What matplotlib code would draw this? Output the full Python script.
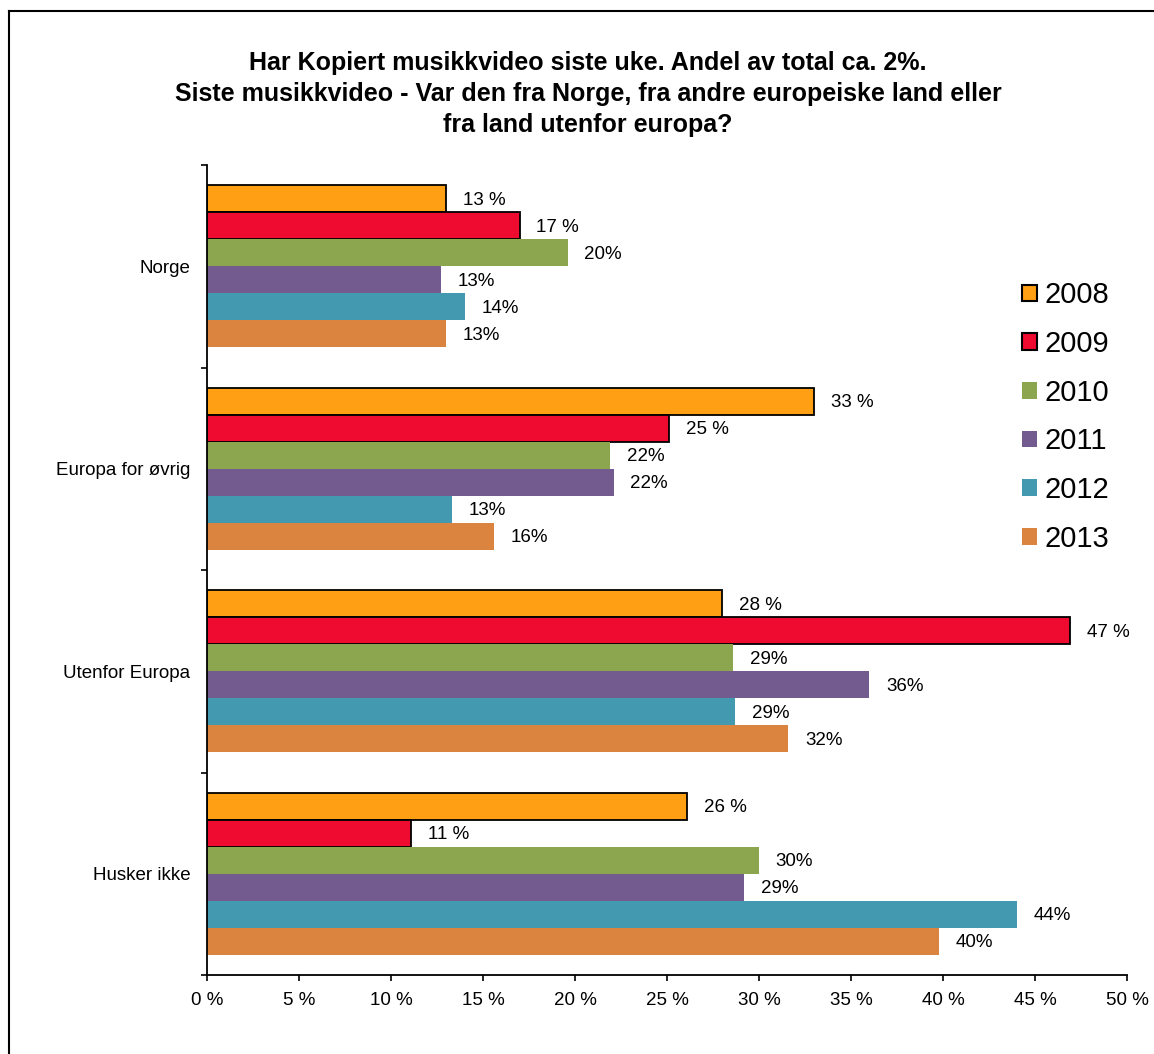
import numpy as np
import matplotlib
matplotlib.use("Agg")
import matplotlib.pyplot as plt
from matplotlib.patches import Patch
from matplotlib.lines import Line2D

plt.rcParams["font.family"] = ["Liberation Sans", "DejaVu Sans"]

# data
categories = ["Norge", "Europa for øvrig", "Utenfor Europa", "Husker ikke"]
years = ["2008", "2009", "2010", "2011", "2012", "2013"]
vals_2008 = [13.0, 33.0, 28.0, 26.1]
vals_2009 = [17.0, 25.1, 46.9, 11.1]
vals_2010 = [19.6, 21.9, 28.6, 30.0]
vals_2011 = [12.7, 22.1, 36.0, 29.2]
vals_2012 = [14.0, 13.3, 28.7, 44.0]
vals_2013 = [13.0, 15.6, 31.6, 39.8]
xticks = [0, 5, 10, 15, 20, 25, 30, 35, 40, 45, 50]

series = [vals_2008, vals_2009, vals_2010, vals_2011, vals_2012, vals_2013]
colors = ["#FF9F14", "#EF0A2F", "#8BA64F", "#735A8F", "#4399B0", "#DB843F"]
edged = [True, True, False, False, False, False]

title = ("Har Kopiert musikkvideo siste uke. Andel av total ca. 2%.\n"
         "Siste musikkvideo - Var den fra Norge, fra andre europeiske land eller\n"
         "fra land utenfor europa?")

W, H = 1154, 1054
fig = plt.figure(figsize=(W / 100, H / 100), dpi=100)
ax = fig.add_axes([207 / W, 1 - 975 / H, (1127 - 207) / W, (975 - 165) / H])

n = len(series)
bh = 0.8 / n
y = np.arange(len(categories))
for i, (vals, col, e) in enumerate(zip(series, colors, edged)):
    pos = y - 0.4 + bh * (i + 0.5)
    ax.barh(pos, vals, height=bh, color=col,
            edgecolor="black" if e else "none", linewidth=1.3 if e else 0)
    for p, v in zip(pos, vals):
        lab = f"{v:.0f} %" if e else f"{v:.0f}%"
        ax.annotate(lab, (v, p), xytext=(12, -1), textcoords="offset points",
                    ha="left", va="center", fontsize=13.5)

ax.set_xlim(0, 50)
ax.set_ylim(3.5, -0.5)
ax.set_xticks(xticks)
ax.set_xticklabels([f"{t} %" for t in xticks], fontsize=13.5)
ax.set_yticks(y)
ax.set_yticklabels(categories, fontsize=13.5)
ax.set_yticks(np.arange(-0.5, len(categories)), minor=True)
ax.tick_params(axis="y", which="major", length=0, pad=12)
ax.tick_params(axis="y", which="minor", length=4, width=1.2, direction="out")
ax.tick_params(axis="x", length=4, width=1.2, direction="out", pad=8)
for s in ["top", "right"]:
    ax.spines[s].set_visible(False)
for s in ["left", "bottom"]:
    ax.spines[s].set_linewidth(1.3)

handles = [Patch(facecolor=c, edgecolor="black" if e else c, linewidth=1.5 if e else 0)
           for c, e in zip(colors, edged)]
fig.legend(handles, years, loc="center left", bbox_to_anchor=(996 / W, 1 - 417 / H),
           frameon=False, fontsize=21, labelspacing=0.71, handlelength=0.5,
           handleheight=0.5, handletextpad=0.25)

fig.text(588 / W, 1 - 94 / H, title, ha="center", va="center", fontsize=18,
         fontweight="bold", linespacing=1.35)

# chart frame (only left and top edges are visible in the crop)
fig.add_artist(Line2D([9 / W, 9 / W], [0, 1 - 11 / H], transform=fig.transFigure,
                      color="black", linewidth=1.5))
fig.add_artist(Line2D([9 / W, 1], [1 - 11 / H, 1 - 11 / H], transform=fig.transFigure,
                      color="black", linewidth=1.5))

fig.savefig("out.png", dpi=100, facecolor="white")
